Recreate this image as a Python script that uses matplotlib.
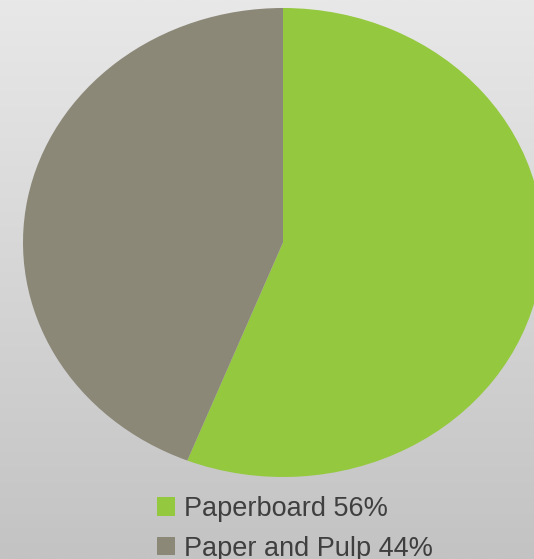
import numpy as np
import matplotlib
matplotlib.use("Agg")
import matplotlib.pyplot as plt

categories = ["Paperboard", "Paper and Pulp"]
values = [56, 44]
colors = ["#94C83E", "#8C8878"]
labels = [f"{c} {v}%" for c, v in zip(categories, values)]

W, H, DPI = 534, 559, 100
fig = plt.figure(figsize=(W / DPI, H / DPI), dpi=DPI)

# gradient background
bg = fig.add_axes([0, 0, 1, 1], zorder=0)
grad = np.linspace(0, 1, 256).reshape(-1, 1)
top = np.array([0xE8, 0xE8, 0xE8]) / 255
bot = np.array([0xC3, 0xC3, 0xC3]) / 255
img = top[None, None, :] * (1 - grad[:, :, None]) + bot[None, None, :] * grad[:, :, None]
bg.imshow(img, aspect="auto", extent=[0, 1, 0, 1], origin="upper")
bg.axis("off")

# pie (elliptical, extends beyond right edge)
left, right, ytop, ybot = 23, 543, 8, 477
ax = fig.add_axes([left / W, (H - ybot) / H, (right - left) / W, (ybot - ytop) / H], zorder=1)
wedges, _ = ax.pie(values, colors=colors, startangle=90, counterclock=False,
                   radius=1.0, wedgeprops=dict(linewidth=0))
ax.set_xlim(-1, 1)
ax.set_ylim(-1, 1)
ax.set_aspect("auto")
ax.axis("off")

leg = fig.legend(wedges, labels, loc="upper left",
                 bbox_to_anchor=(157 / W, (H - 496) / H),
                 frameon=False, prop=dict(family="Liberation Sans", size=19.5),
                 handlelength=0.68, handleheight=0.68, handletextpad=0.3,
                 labelspacing=0.5, borderpad=0, borderaxespad=0)
for t in leg.get_texts():
    t.set_color("#3F3F3F")

fig.savefig("out.png", dpi=DPI)
